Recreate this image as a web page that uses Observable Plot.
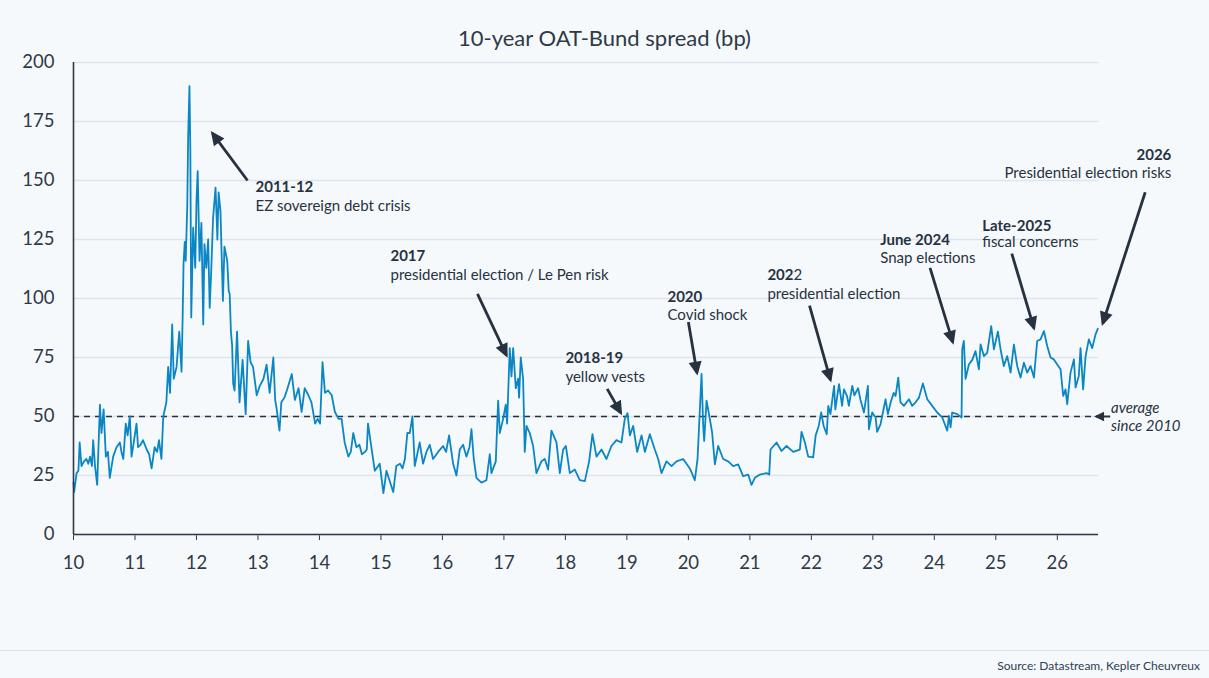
<!DOCTYPE html>
<html><head><meta charset="utf-8">
<script src="https://cdn.jsdelivr.net/npm/d3@7"></script>
<script src="https://cdn.jsdelivr.net/npm/@observablehq/plot@0.6"></script>
<style>
html,body{margin:0;padding:0;background:#f6f9fc;}
body{width:1209px;height:678px;overflow:hidden;font-family:Lato,sans-serif;color:#2f3a47;}
#title{height:24px;padding-top:26px;line-height:24px;text-align:center;font-size:22px;color:#2f3a47;}
#chart{height:550px;}
#footer{margin-top:50px;border-top:1px solid #d8dfe7;padding-top:8px;text-align:right;padding-right:9px;font-size:12px;line-height:14px;color:#2c3e55;}
</style></head>
<body>
<div id="title">10-year OAT-Bund spread (bp)</div>
<div id="chart"></div>
<div id="footer">Source: Datastream, Kepler Cheuvreux</div>
<script>
// decimal year (10 = 2010) and spread in bp
const dates = [
10.00,10.01,10.05,10.08,10.10,10.13,10.17,10.21,10.24,10.27,10.30,10.32,10.35,10.385,10.43,10.455,10.49,10.526,10.56,10.59,
10.645,10.70,10.754,10.78,10.81,10.85,10.88,10.916,10.944,10.98,11.025,11.05,11.09,11.13,11.19,11.23,11.27,11.32,11.36,11.39,
11.43,11.46,11.51,11.54,11.57,11.605,11.63,11.676,11.72,11.757,
11.775,11.79,11.81,11.825,11.85,11.865,11.886,11.90,11.915,11.946,11.98,12.00,12.02,12.05,12.08,12.11,12.13,12.16,12.19,12.215,
12.24,12.27,12.31,12.34,12.36,12.39,12.43,12.455,12.50,12.525,12.54,12.56,12.58,12.597,12.62,
12.66,12.70,12.75,12.80,12.84,12.88,12.92,12.96,12.98,13.03,13.09,13.14,13.19,13.25,13.28,13.30,13.35,13.38,13.43,13.47,
13.55,13.60,13.66,13.71,13.76,13.82,13.87,13.93,13.97,14.01,14.05,14.09,14.14,14.20,14.25,14.31,14.36,14.41,14.47,14.51,
14.55,14.60,14.65,14.69,14.74,14.77,14.79,14.85,14.90,14.98,15.04,15.09,15.15,15.20,15.25,15.31,15.35,15.39,15.43,15.469,
15.512,15.55,15.63,15.685,15.74,15.794,15.848,15.93,16.01,16.06,16.108,16.174,16.228,16.282,16.336,16.39,16.44,16.472,16.51,16.553,
16.634,16.716,16.77,16.797,16.868,16.906,16.933,16.987,17.03,17.052,17.095,17.123,17.15,17.193,17.231,17.247,17.274,17.312,17.339,17.367,
17.42,17.475,17.529,17.61,17.665,17.719,17.773,17.855,17.909,17.963,18.007,18.072,18.153,18.234,18.316,18.386,18.44,18.505,18.587,18.668,
18.749,18.83,18.912,18.966,19.01,19.048,19.102,19.167,19.238,19.292,19.373,19.454,19.509,19.563,19.644,19.726,19.807,19.915,20.024,20.105,
20.149,20.176,20.214,20.241,20.257,20.295,20.349,20.387,20.431,20.485,20.566,20.647,20.729,20.81,20.891,20.973,21.027,21.081,21.163,21.271,
21.315,21.336,21.434,21.515,21.596,21.705,21.813,21.84,21.895,21.949,22.03,22.07,22.12,22.16,22.20,22.25,22.275,22.31,22.37,22.39,
22.45,22.50,22.53,22.58,22.61,22.665,22.70,22.76,22.80,22.855,22.92,22.936,22.99,23.045,23.07,23.126,23.207,23.245,23.29,23.34,
23.37,23.413,23.45,23.505,23.587,23.64,23.695,23.75,23.814,23.885,23.966,24.047,24.129,24.21,24.237,24.264,24.29,24.373,24.443,24.454,
24.48,24.508,24.562,24.617,24.67,24.725,24.752,24.806,24.86,24.925,24.969,25.034,25.077,25.13,25.186,25.24,25.294,25.348,25.402,25.457,
25.511,25.565,25.62,25.673,25.728,25.782,25.836,25.89,25.944,25.999,26.053,26.096,26.134,26.161,26.215,26.27,26.297,26.35,26.378,26.42,
26.46,26.513,26.568,26.622,26.66
];
const spread = [
22,18,26,27,39,29,31,32,30,33,29,40,29,21,55,43,53,33,35,24,
33,37,39,35,32,47,42,50,33,39,47,37,38,40,36,34,28,37,35,40,
32,50,56,71,60,89,66,71,86,69,
92,115,124,116,139,169,190,163,92,130,113,141,154,116,132,89,123,113,125,96,
112,134,147,125,145,137,99,122,116,103,102,86,80,64,61,
86,56,74,51,82,73,71,63,59,63,66,72,60,75,57,54,44,56,58,61,
68,57,62,52,62,59,56,47,49,47,73,60,61,59,52,49,49,39,33,35,
43,37,38,34,35,36,47,36,27,30,17.5,27,22,18,29,30,28,32,43,43,
50,29,39,30,35,38,32,35,37.5,35,42,30,25,36,38,33,37,44.6,32,24,
22,23,34,26,31,56.7,43,49,55,47,79,67,79,62,66,58,75,66,35,46,
43,37.5,26,31,32,27.5,44,39,26,36,37.5,26,27.5,23,22.6,31,42.5,33,36,32,
37.5,40,39,49,51.4,42,46,35,42,35,42.5,36,32,26,31,29,31,32,28,23,
32,47,68,46,39.6,56.7,49,43,29.7,37.5,32,31,29,29.7,24.7,25.4,21,24,25.4,26,
25.4,36,39,35.4,37.5,35,36,43.5,39,33,32.7,42,46,51.7,46,42.5,54.5,51,63,53,
63.7,54.5,61.5,58.7,54.5,63,59,62,57,51.7,63,44.6,51.7,49.6,43.5,46.8,57.3,51,56,60,
58.7,66.5,56,54.5,57.3,54.5,56,58,64,57.3,54.5,51.7,49.6,44,50.3,45.4,51.7,51,49.6,78.5,
82,66,72,74,77.7,70,80.5,75.6,77,88.3,78.5,86,78.5,71.4,75.6,68.6,80.5,71.4,66.5,72.8,
68.6,71.4,66.5,82,82.7,86.2,79.9,75,74.2,72,70,58.7,61.5,55.2,68.6,74.2,62.3,67.2,79,61.5,
75.6,82.7,79,84.8,87.2
];
const yTicks = [0, 25, 50, 75, 100, 125, 150, 175, 200];
const xTicks = [10, 11, 12, 13, 14, 15, 16, 17, 18, 19, 20, 21, 22, 23, 24, 25, 26];
const averageLevel = 50;

// annotations: heading, text line, label position, arrow tail -> head
const notes = [
  {head: "2011-12", sub: "EZ sovereign debt crisis", x: 12.96, y: 147, y2: 139, ax1: 12.83, ay1: 150, ax2: 12.26, ay2: 170},
  {head: "2017", sub: "presidential election / Le Pen risk", x: 15.155, y: 118, y2: 110, ax1: 16.57, ay1: 102, ax2: 17.04, ay2: 76},
  {head: "2018-19", sub: "yellow vests", x: 18.0, y: 74.8, y2: 66.7, ax1: 18.68, ay1: 61.7, ax2: 18.9, ay2: 51.6},
  {head: "2020", sub: "Covid shock", x: 19.66, y: 100.4, y2: 92.8, ax1: 20.0, ay1: 90, ax2: 20.14, ay2: 68.5},
  {head: "202", sub: "presidential election", x: 21.285, y: 110, y2: 101.7, ax1: 21.97, ay1: 97, ax2: 22.31, ay2: 65.5},
  {head: "June 2024", sub: "Snap elections", x: 23.12, y: 124.6, y2: 117, ax1: 23.93, ay1: 113, ax2: 24.3, ay2: 81.5},
  {head: "Late-2025", sub: "fiscal concerns", x: 24.78, y: 130.8, y2: 123.7, ax1: 25.26, ay1: 119, ax2: 25.62, ay2: 87.5}
];
const noteRight = [
  {head: "2026", sub: "Presidential election risks", x: 27.854, y: 160.7, y2: 153, ax1: 27.43, ay1: 145, ax2: 26.74, ay2: 89.5}
];
const avgNote = [{l1: "average", l2: "since 2010", x: 26.873, y: 53.6, y2: 45.8, ax1: 26.86, ay1: 50, ax2: 26.63, ay2: 50}];

const n = Math.min(dates.length, spread.length);
const series = dates.slice(0, n).map((d, i) => ({t: d, v: spread[i]}));
const ink = "#263240";
const allArrows = notes.concat(noteRight);

const svg = Plot.plot({
  width: 1209,
  height: 550,
  marginLeft: 73,
  marginRight: 111,
  marginTop: 12,
  marginBottom: 66,
  style: {background: "transparent", fontFamily: "Lato, sans-serif", fontSize: "18.5px", color: "#2f3a47", overflow: "visible"},
  x: {domain: [10, 26.67], ticks: xTicks, tickFormat: d => String(d), tickSize: 6, tickPadding: 15, label: null},
  y: {domain: [0, 200], ticks: yTicks, tickSize: 0, tickPadding: 19, label: null},
  marks: [
    Plot.ruleY(yTicks, {stroke: "#dde4eb", strokeWidth: 1.4}),
    Plot.ruleY([averageLevel], {stroke: ink, strokeWidth: 1.4, strokeDasharray: "6,5"}),
    Plot.line(series, {x: "t", y: "v", stroke: "#0a86c4", strokeWidth: 1.8, curve: "linear"}),
    Plot.ruleX([10], {y1: 0, y2: 200, stroke: "#2f3a47", strokeWidth: 1.6}),
    Plot.ruleY([0], {stroke: "#2f3a47", strokeWidth: 1.6}),
    Plot.link(allArrows, {x1: "ax1", y1: "ay1", x2: "ax2", y2: "ay2", stroke: ink, strokeWidth: 2.8, markerEnd: "arrow"}),
    Plot.link(avgNote, {x1: "ax1", y1: "ay1", x2: "ax2", y2: "ay2", stroke: ink, strokeWidth: 2, markerEnd: "arrow"}),
    Plot.text(notes, {x: "x", y: "y", text: "head", textAnchor: "start", lineAnchor: "middle", fontWeight: "bold", fontSize: 15, fill: ink}),
    Plot.text(notes, {x: "x", y: "y2", text: "sub", textAnchor: "start", lineAnchor: "middle", fontSize: 15, fill: ink}),
    Plot.text(notes.filter(d => d.head === "202"), {x: "x", y: "y", text: () => "2", dx: 26, textAnchor: "start", lineAnchor: "middle", fontSize: 15, fill: ink}),
    Plot.text(noteRight, {x: "x", y: "y", text: "head", textAnchor: "end", lineAnchor: "middle", fontWeight: "bold", fontSize: 15, fill: ink}),
    Plot.text(noteRight, {x: "x", y: "y2", text: "sub", textAnchor: "end", lineAnchor: "middle", fontSize: 15, fill: ink}),
    Plot.text(avgNote, {x: "x", y: "y", text: "l1", textAnchor: "start", lineAnchor: "middle", fontStyle: "italic", fontSize: 15, fill: ink}),
    Plot.text(avgNote, {x: "x", y: "y2", text: "l2", textAnchor: "start", lineAnchor: "middle", fontStyle: "italic", fontSize: 15, fill: ink})
  ]
});

svg.querySelectorAll("marker").forEach(m => {
  m.setAttribute("fill", ink);
  m.setAttribute("stroke", "none");
  m.style.overflow = "visible";
  const p = m.querySelector("path");
  if (p) p.setAttribute("d", "M-6,-3.5L1.5,0L-6,3.5Z");
});

document.getElementById("chart").appendChild(svg);
</script>
</body></html>
